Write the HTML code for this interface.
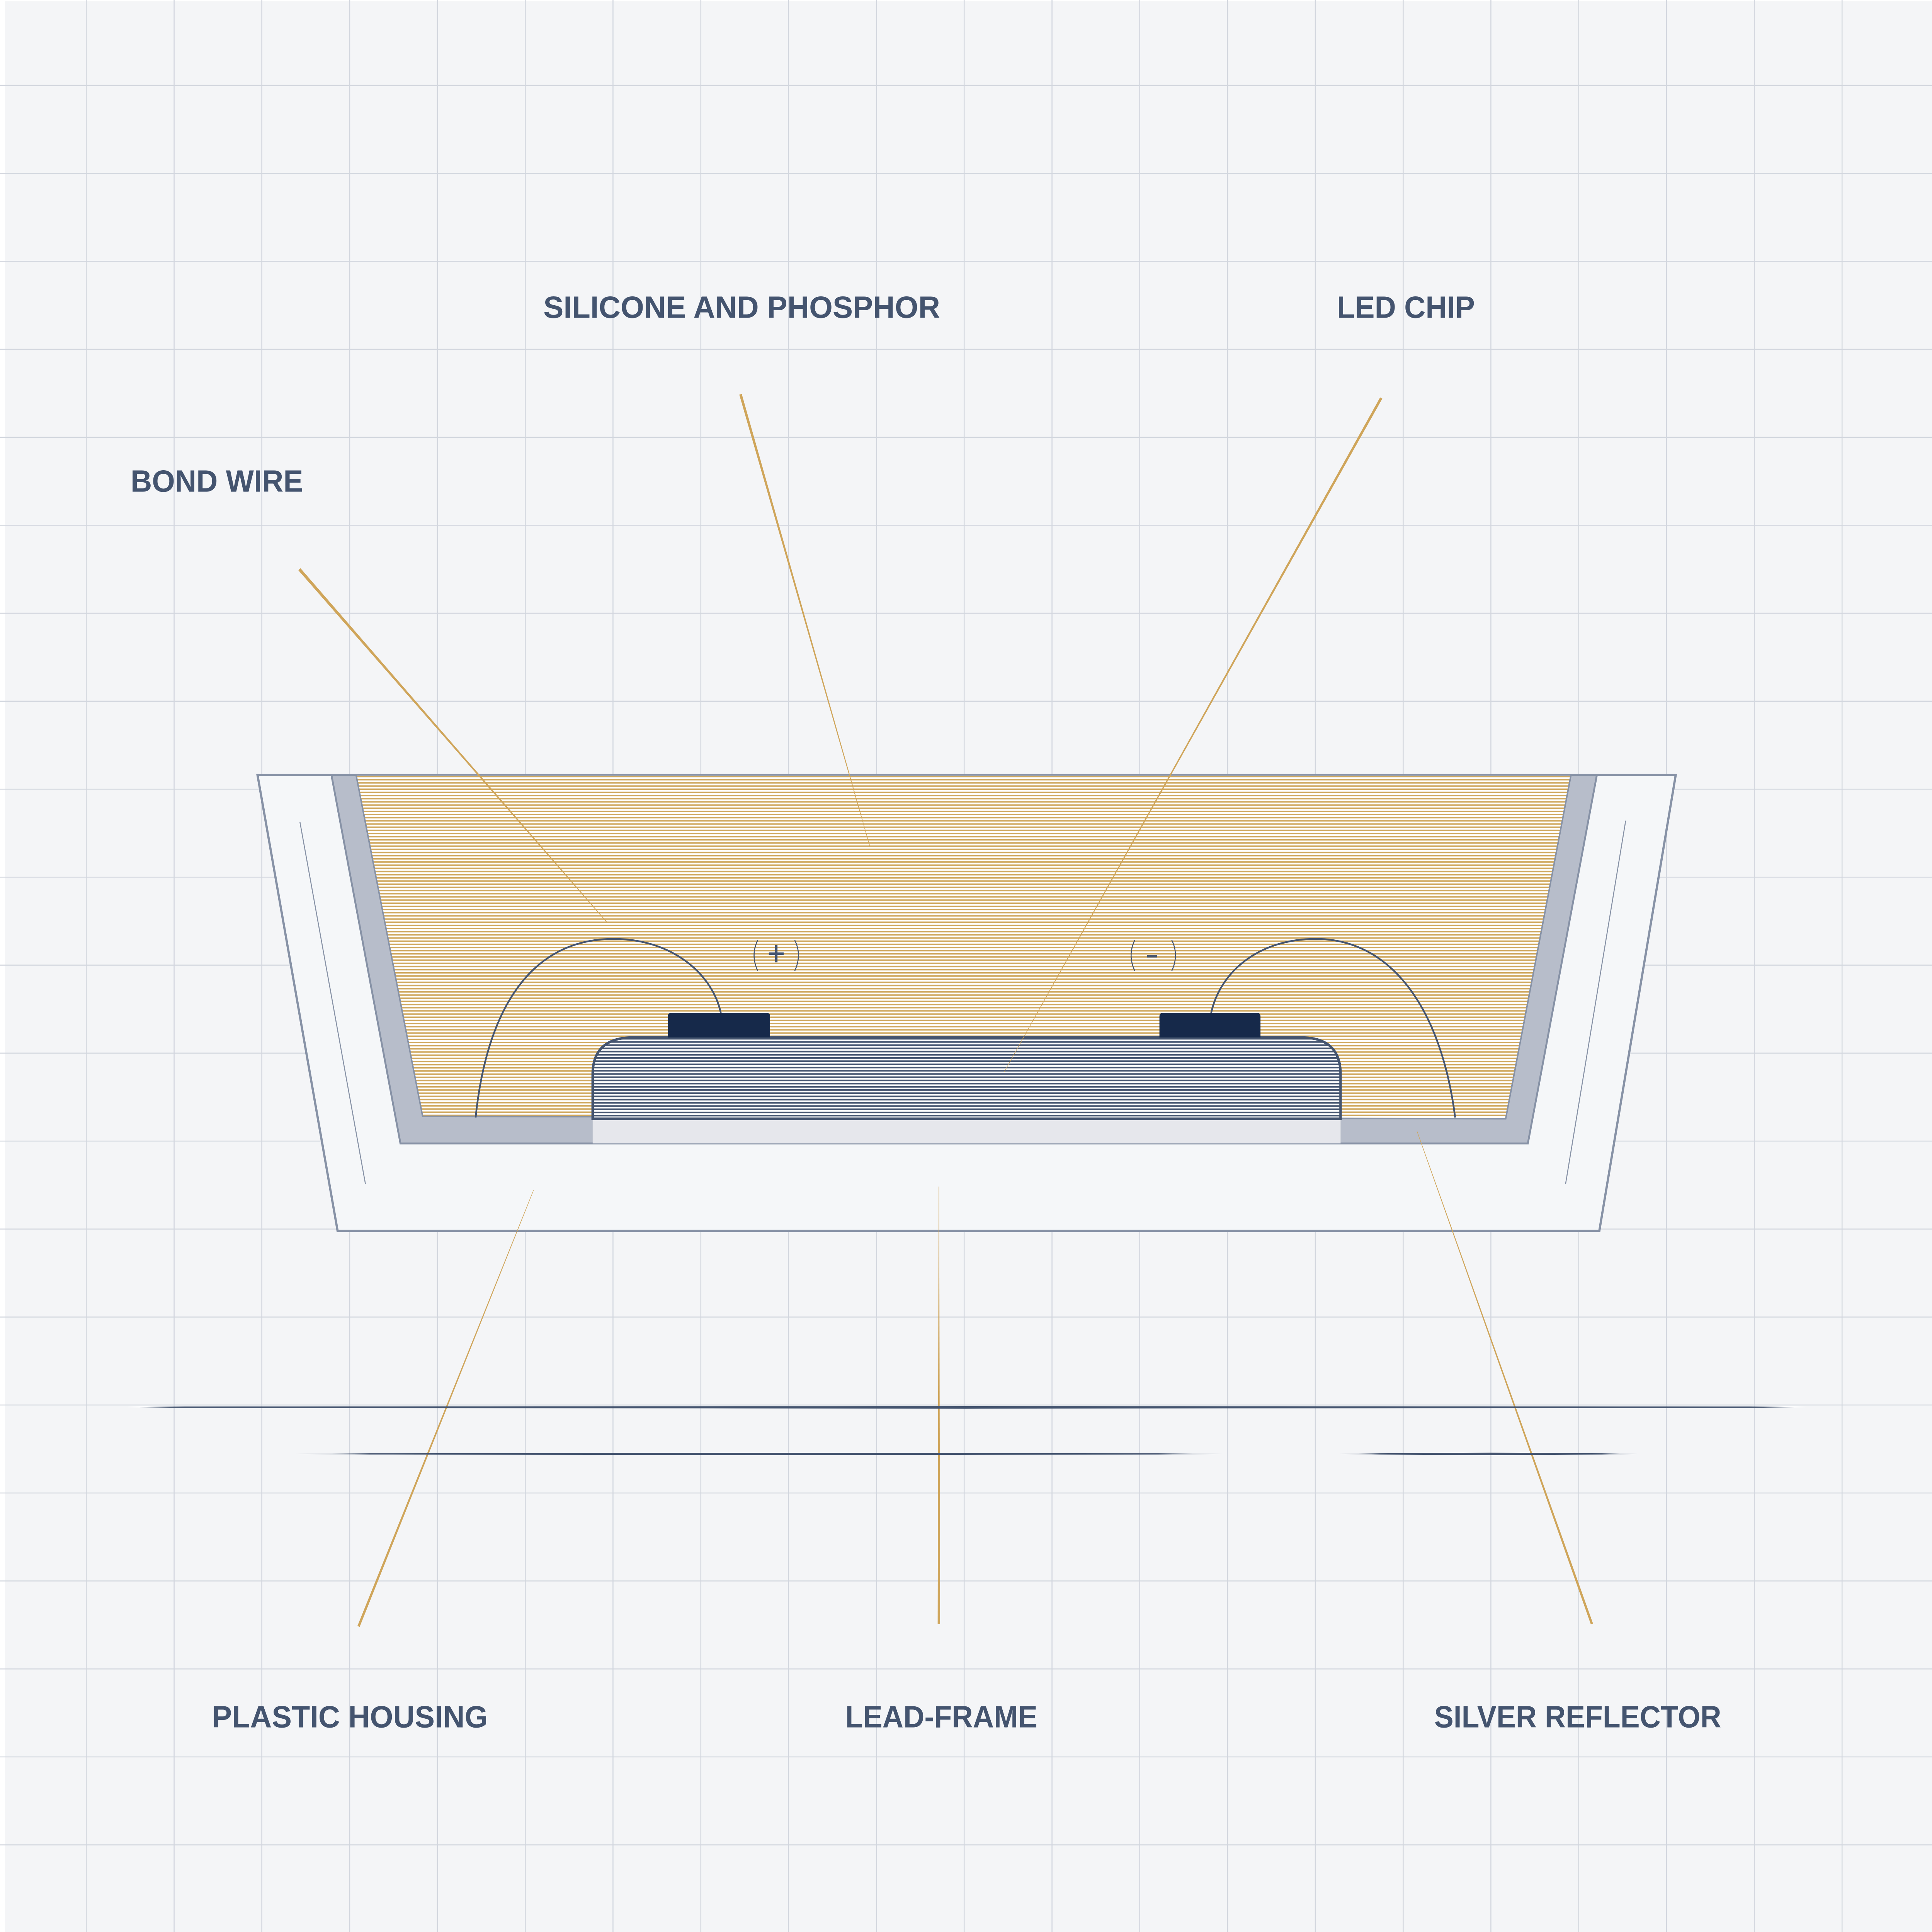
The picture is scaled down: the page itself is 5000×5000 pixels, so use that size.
<!DOCTYPE html>
<html><head><meta charset="utf-8"><style>html,body{margin:0;padding:0;background:#fff}svg{display:block}</style></head>
<body>
<svg xmlns="http://www.w3.org/2000/svg" width="5000" height="5000" viewBox="0 0 1568 1568">
<defs>
<pattern id="ph" width="20" height="2.57" patternUnits="userSpaceOnUse">
<rect width="20" height="2.57" fill="#ffffff"/><rect y="0" width="20" height="1.15" fill="#cfa75c"/>
</pattern>
<pattern id="bh" width="20" height="2.6" patternUnits="userSpaceOnUse">
<rect width="20" height="2.6" fill="#ffffff"/><rect y="0" width="20" height="1.3" fill="#44546f"/>
</pattern>
</defs>
<rect width="1568" height="1568" fill="#ffffff"/>
<rect x="4" y="1" width="1564" height="1567" fill="#f4f5f7"/>
<g stroke="#d2d6de" stroke-width="0.8">
<line x1="70" y1="0" x2="70" y2="1568"/><line x1="141.3" y1="0" x2="141.3" y2="1568"/><line x1="212.5" y1="0" x2="212.5" y2="1568"/><line x1="283.8" y1="0" x2="283.8" y2="1568"/><line x1="355" y1="0" x2="355" y2="1568"/><line x1="426.3" y1="0" x2="426.3" y2="1568"/><line x1="497.5" y1="0" x2="497.5" y2="1568"/><line x1="568.8" y1="0" x2="568.8" y2="1568"/><line x1="640" y1="0" x2="640" y2="1568"/><line x1="711.3" y1="0" x2="711.3" y2="1568"/><line x1="782.5" y1="0" x2="782.5" y2="1568"/><line x1="853.8" y1="0" x2="853.8" y2="1568"/><line x1="925" y1="0" x2="925" y2="1568"/><line x1="996.3" y1="0" x2="996.3" y2="1568"/><line x1="1067.5" y1="0" x2="1067.5" y2="1568"/><line x1="1138.8" y1="0" x2="1138.8" y2="1568"/><line x1="1210" y1="0" x2="1210" y2="1568"/><line x1="1281.3" y1="0" x2="1281.3" y2="1568"/><line x1="1352.5" y1="0" x2="1352.5" y2="1568"/><line x1="1423.8" y1="0" x2="1423.8" y2="1568"/><line x1="1495" y1="0" x2="1495" y2="1568"/>
<line y1="69.3" x1="0" y2="69.3" x2="1568"/><line y1="140.7" x1="0" y2="140.7" x2="1568"/><line y1="212.1" x1="0" y2="212.1" x2="1568"/><line y1="283.5" x1="0" y2="283.5" x2="1568"/><line y1="354.9" x1="0" y2="354.9" x2="1568"/><line y1="426.3" x1="0" y2="426.3" x2="1568"/><line y1="497.7" x1="0" y2="497.7" x2="1568"/><line y1="569.1" x1="0" y2="569.1" x2="1568"/><line y1="640.5" x1="0" y2="640.5" x2="1568"/><line y1="711.9" x1="0" y2="711.9" x2="1568"/><line y1="783.3" x1="0" y2="783.3" x2="1568"/><line y1="854.7" x1="0" y2="854.7" x2="1568"/><line y1="926.1" x1="0" y2="926.1" x2="1568"/><line y1="997.5" x1="0" y2="997.5" x2="1568"/><line y1="1068.9" x1="0" y2="1068.9" x2="1568"/><line y1="1140.3" x1="0" y2="1140.3" x2="1568"/><line y1="1211.7" x1="0" y2="1211.7" x2="1568"/><line y1="1283.1" x1="0" y2="1283.1" x2="1568"/><line y1="1354.5" x1="0" y2="1354.5" x2="1568"/><line y1="1425.9" x1="0" y2="1425.9" x2="1568"/><line y1="1497.3" x1="0" y2="1497.3" x2="1568"/>
</g>
<polygon points="209,629 1360,629 1298,999 274,999" fill="#f5f7f9" stroke="#8792a6" stroke-width="1.8"/>
<polygon points="243,667 243.8,667 297,961 296.2,961" fill="#8792a6"/>
<polygon points="1319,666 1319.8,666 1271,961 1270.2,961" fill="#8792a6"/>
<polygon points="269,629 1296,629 1240,928 325,928" fill="#b7bdca" stroke="#8792a6" stroke-width="1.5"/>
<polygon points="289,629 1275,629 1222,908 343,906" fill="url(#ph)" stroke="#8792a6" stroke-width="1.2"/>
<rect x="481" y="908" width="607" height="20" fill="#e6e7ec"/>
<path d="M481,908 L481,872 Q481,842 514,842 L1056,842 Q1088,842 1088,872 L1088,908 Z" fill="url(#bh)" stroke="#44546f" stroke-width="2"/>
<line x1="481" y1="908" x2="1088" y2="908" stroke="#44546f" stroke-width="2"/>
<path d="M542,842 L542,825 Q542,822 545,822 L622,822 Q625,822 625,825 L625,842 Z" fill="#16294a"/>
<path d="M941,842 L941,825 Q941,822 944,822 L1020,822 Q1023,822 1023,825 L1023,842 Z" fill="#16294a"/>
<g fill="none" stroke="#44546f" stroke-width="1.4">
<path d="M386,907 C395,820 430,762 498,762 C545,762 578,790 585,822"/>
<path d="M983,822 C990,790 1020,762 1068,762 C1130,762 1170,820 1181,907"/>
</g>
<g fill="none" stroke="#44546f" stroke-width="0.8">
<path d="M615,763 Q609,775 615,788"/><path d="M645,763 Q651,775 645,788"/>
<path d="M921,763 Q915,775 921,788"/><path d="M951,763 Q957,775 951,788"/>
</g>
<g stroke="#44546f" stroke-width="2"><line x1="630" y1="767" x2="630" y2="781"/><line x1="624" y1="774" x2="636" y2="774"/><line x1="931" y1="776" x2="939" y2="776" stroke-width="2.2"/></g>
<g fill="#cfa55a">
<polygon points="242.1,462.8 243.9,461.2 493.2,748.8 492.8,749.2"/>
<polygon points="600,320.3 602,319.7 706.2,687 705.8,687"/>
<polygon points="1121.9,323.5 1120.1,322.5 814.8,870 815.2,870"/>
<polygon points="432.8,966 433.2,966 291.9,1320.4 290.1,1319.6"/>
<polygon points="761.8,963 762.2,963 763,1318 761,1318"/>
<polygon points="1149.8,918 1150.2,918 1292.9,1317.7 1291.1,1318.3"/>
</g>
<g fill="#44546f">
<polygon points="103,1142 150,1141.5 784,1141.2 1420,1141.5 1466,1142 1420,1142.6 784,1143.3 150,1142.6"/>
<polygon points="240,1180 300,1179.5 620,1179.2 940,1179.5 992,1180 940,1180.5 620,1180.9 300,1180.5"/>
<polygon points="1087,1180 1120,1179.5 1210,1179 1300,1179.5 1329,1180 1300,1180.5 1210,1181 1120,1180.5"/>
</g>
<g fill="#44546f" font-family="Liberation Sans, sans-serif" font-weight="bold" font-size="25">
<text x="441" y="258" textLength="322" lengthAdjust="spacingAndGlyphs">SILICONE AND PHOSPHOR</text>
<text x="1085" y="258" textLength="112" lengthAdjust="spacingAndGlyphs">LED CHIP</text>
<text x="106" y="399" textLength="140" lengthAdjust="spacingAndGlyphs">BOND WIRE</text>
<text x="172" y="1402" textLength="224" lengthAdjust="spacingAndGlyphs">PLASTIC HOUSING</text>
<text x="686" y="1402" textLength="156" lengthAdjust="spacingAndGlyphs">LEAD-FRAME</text>
<text x="1164" y="1402" textLength="233" lengthAdjust="spacingAndGlyphs">SILVER REFLECTOR</text>
</g>
</svg>
</body></html>
